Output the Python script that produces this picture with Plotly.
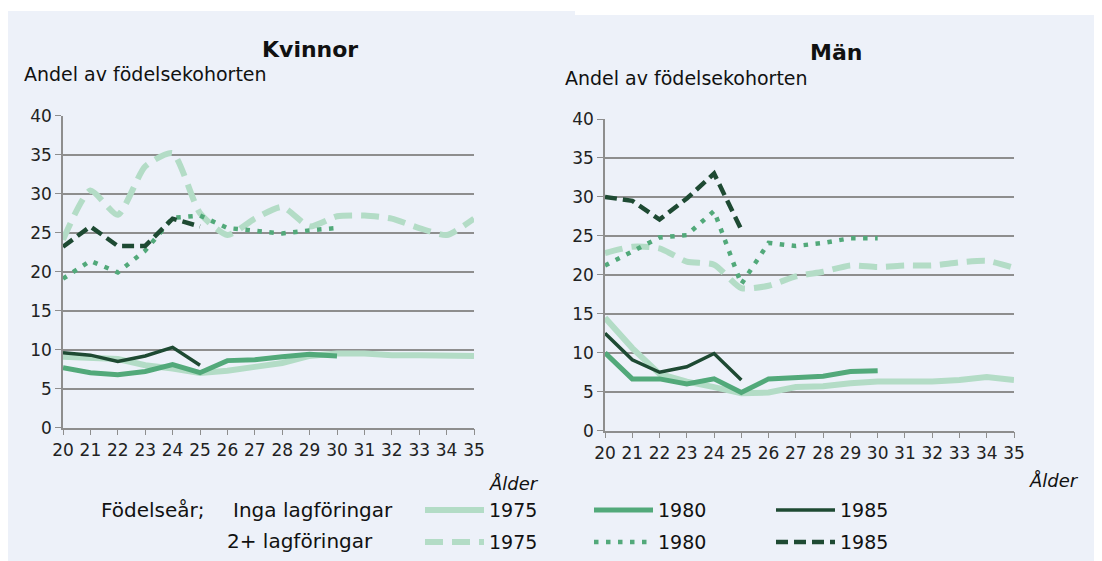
import plotly.graph_objects as go

# Ålder 20-35
ages = list(range(20, 36))

# Kvinnor, andel av födelsekohorten
kv_inga_1975 = [9.1, 8.9, 8.8, 8.0, 7.6, 7.0, 7.3, 7.8, 8.3, 9.2, 9.5, 9.5, 9.3, 9.3, 9.3, 9.2]
kv_inga_1980 = [7.7, 7.05, 6.8, 7.2, 8.1, 7.05, 8.6, 8.7, 9.1, 9.4, 9.2]
kv_inga_1985 = [9.6, 9.3, 8.5, 9.2, 10.3, 8.0]
kv_2p_1975 = [24.1, 30.4, 27.3, 33.5, 35.2, 27.5, 24.7, 26.8, 28.3, 25.8, 27.1, 27.2, 26.8, 25.6, 24.7, 26.8]
kv_2p_1980 = [19.1, 21.4, 19.9, 22.7, 26.9, 27.2, 25.6, 25.3, 24.9, 25.3, 25.6]
kv_2p_1985 = [23.2, 25.8, 23.3, 23.3, 26.8, 25.8]

# Män, andel av födelsekohorten
man_inga_1975 = [14.5, 10.6, 7.3, 6.3, 5.6, 4.8, 4.9, 5.6, 5.7, 6.1, 6.3, 6.3, 6.3, 6.5, 6.9, 6.5]
man_inga_1980 = [10.0, 6.65, 6.65, 6.0, 6.65, 4.9, 6.65, 6.9, 7.0, 7.6, 7.7]
man_inga_1985 = [12.5, 9.1, 7.5, 8.2, 9.9, 6.5]
man_2p_1975 = [22.8, 23.6, 23.4, 21.7, 21.3, 18.3, 18.6, 19.8, 20.4, 21.2, 21.0, 21.2, 21.2, 21.6, 21.8, 20.9]
man_2p_1980 = [21.2, 23.0, 24.8, 25.1, 28.2, 18.8, 24.1, 23.7, 24.1, 24.7, 24.7]
man_2p_1985 = [30.0, 29.5, 27.1, 29.8, 33.0, 25.8]

years = ["1975", "1980", "1985"]
y_ticks = [0, 5, 10, 15, 20, 25, 30, 35, 40]

LIGHT = "#b3dcc6"
MID = "#52a97a"
DARK = "#1e4a33"
BG = "#edf1f9"
GRID = "#8e8e8e"
FONT = "DejaVu Sans"

# the page puts an 8px body margin around the figure
OFF = 8
W, H = 1102 - OFF, 561 - OFF

styles = {
    "inga_1975": dict(color=LIGHT, width=6, dash="solid"),
    "inga_1980": dict(color=MID, width=5, dash="solid"),
    "inga_1985": dict(color=DARK, width=3.5, dash="solid"),
    "2p_1975": dict(color=LIGHT, width=6, dash="18px,9px"),
    "2p_1980": dict(color=MID, width=4.5, dash="4.5px,7.5px"),
    "2p_1985": dict(color=DARK, width=4.5, dash="12px,6px"),
}

panels = [
    ("x", "y", dict(inga_1975=kv_inga_1975, inga_1980=kv_inga_1980, inga_1985=kv_inga_1985,
                    **{"2p_1975": kv_2p_1975, "2p_1980": kv_2p_1980, "2p_1985": kv_2p_1985})),
    ("x2", "y2", dict(inga_1975=man_inga_1975, inga_1980=man_inga_1980, inga_1985=man_inga_1985,
                      **{"2p_1975": man_2p_1975, "2p_1980": man_2p_1980, "2p_1985": man_2p_1985})),
]

draw_order = ["2p_1975", "inga_1975", "2p_1980", "inga_1980", "2p_1985", "inga_1985"]


def px(x, y):
    return (x - OFF) / W, 1 - (y - OFF) / H


fig = go.Figure()

for xa, ya, series in panels:
    for key in draw_order:
        vals = series[key]
        st = styles[key]
        smooth = key == "2p_1975"
        fig.add_trace(go.Scatter(
            x=ages[:len(vals)], y=vals, xaxis=xa, yaxis=ya,
            mode="lines", showlegend=False, hoverinfo="skip",
            line=dict(color=st["color"], width=st["width"], dash=st["dash"],
                      shape="spline" if smooth else "linear", smoothing=0.6),
        ))

axis_common = dict(
    range=[20, 35], tickvals=ages, ticks="outside", ticklen=6, tickcolor=GRID,
    showline=True, linecolor=GRID, linewidth=1.5, showgrid=False, zeroline=False,
    automargin=False, tickfont=dict(family=FONT, size=17, color="#222"),
)
yaxis_common = dict(
    range=[0, 40], tickvals=y_ticks, ticks="outside", ticklen=6, tickcolor=GRID,
    showline=True, linecolor=GRID, linewidth=1.5, showgrid=True, gridcolor=GRID,
    gridwidth=1.5, zeroline=False, automargin=False,
    tickfont=dict(family=FONT, size=17, color="#222"),
)

lx0, ly_top = px(63, 115.7)
lx1, ly_bot = px(474, 427.7)
rx0, ry_top = px(605, 119)
rx1, ry_bot = px(1014, 430.7)

fig.update_layout(
    width=W, height=H,
    margin=dict(l=0, r=0, t=0, b=0, pad=0, autoexpand=False),
    paper_bgcolor="white", plot_bgcolor="white",
    font=dict(family=FONT, color="#111"),
    xaxis=dict(domain=[lx0, lx1], anchor="y", **axis_common),
    yaxis=dict(domain=[ly_bot, ly_top], anchor="x", **yaxis_common),
    xaxis2=dict(domain=[rx0, rx1], anchor="y2", **axis_common),
    yaxis2=dict(domain=[ry_bot, ry_top], anchor="x2", **yaxis_common),
)

# panel backgrounds
bx0, by1 = px(7, 11)
bx1, _ = px(575, 11)
_, by2 = px(575, 15)
fig.add_shape(type="rect", xref="paper", yref="paper", x0=max(bx0, 0), x1=bx1,
              y0=0, y1=by1, fillcolor=BG, line_width=0, layer="below")
fig.add_shape(type="rect", xref="paper", yref="paper", x0=bx1, x1=1,
              y0=0, y1=by2, fillcolor=BG, line_width=0, layer="below")


def text(x, y, s, size=17, bold=False, italic=False, anchor="left"):
    ax, ay = px(x, y)
    if bold:
        s = "<b>" + s + "</b>"
    if italic:
        s = "<i>" + s + "</i>"
    fig.add_annotation(x=ax, y=ay, xref="paper", yref="paper", text=s, showarrow=False,
                       xanchor=anchor, yanchor="middle",
                       font=dict(family=FONT, size=size, color="#111"))


text(310, 49, "Kvinnor", size=22, bold=True, anchor="center")
text(836, 52, "Män", size=22, bold=True, anchor="center")
text(22, 74, "Andel av födelsekohorten", size=19)
text(563, 78, "Andel av födelsekohorten", size=19)
text(541, 483, "Ålder", size=18, italic=True, anchor="right")
text(1081, 480, "Ålder", size=18, italic=True, anchor="right")

# legend
text(99, 510, "Födelseår;", size=20)
text(231, 510, "Inga lagföringar", size=20)
text(225, 541, "2+ lagföringar", size=20)
legend_x = [425, 594, 776]
for prefix, ly in [("inga_", 510), ("2p_", 542)]:
    for lx, yr in zip(legend_x, years):
        st = styles[prefix + yr]
        x0, y0 = px(lx, ly)
        x1, _ = px(lx + 59, ly)
        fig.add_shape(type="line", xref="paper", yref="paper", x0=x0, x1=x1, y0=y0, y1=y0,
                      line=dict(color=st["color"], width=st["width"], dash=st["dash"]))
        text(lx + 62, ly, yr, size=19)

fig.write_html("out.html")
